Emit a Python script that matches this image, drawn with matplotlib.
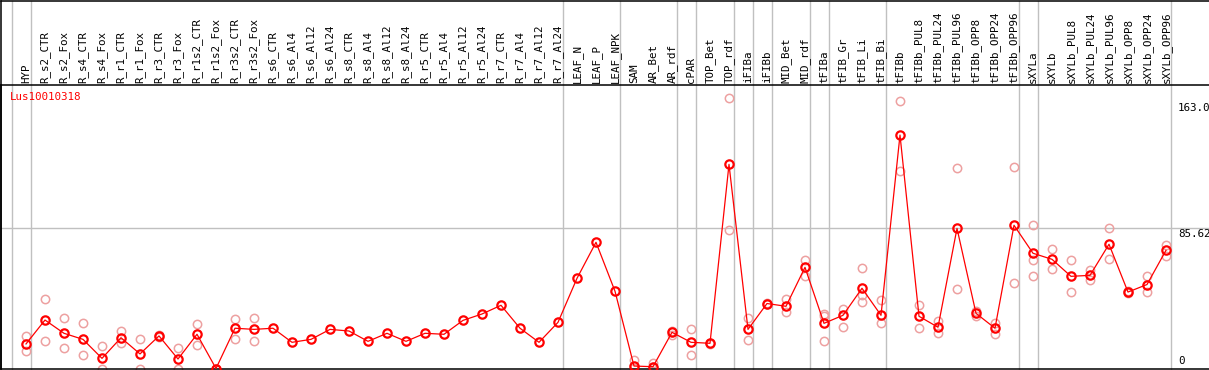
import matplotlib
matplotlib.use("Agg")
import matplotlib.pyplot as plt

# Sample names (column headers)
samples = [
    "HYP",
    "R_s2_CTR", "R_s2_Fox", "R_s4_CTR", "R_s4_Fox", "R_r1_CTR", "R_r1_Fox",
    "R_r3_CTR", "R_r3_Fox", "R_r1s2_CTR", "R_r1s2_Fox", "R_r3s2_CTR", "R_r3s2_Fox",
    "R_s6_CTR", "R_s6_Al4", "R_s6_Al12", "R_s6_Al24",
    "R_s8_CTR", "R_s8_Al4", "R_s8_Al12", "R_s8_Al24",
    "R_r5_CTR", "R_r5_Al4", "R_r5_Al12", "R_r5_Al24",
    "R_r7_CTR", "R_r7_Al4", "R_r7_Al12", "R_r7_Al24",
    "LEAF_N", "LEAF_P", "LEAF_NPK",
    "SAM", "AR_Bet", "AR_rdf", "cPAR", "TOP_Bet", "TOP_rdf",
    "iFIBa", "iFIBb", "MID_Bet", "MID_rdf",
    "tFIBa", "tFIB_Gr", "tFIB_Li", "tFIB_Bi",
    "tFIBb", "tFIBb_PUL8", "tFIBb_PUL24", "tFIBb_PUL96",
    "tFIBb_OPP8", "tFIBb_OPP24", "tFIBb_OPP96",
    "sXYLa", "sXYLb", "sXYLb_PUL8", "sXYLb_PUL24", "sXYLb_PUL96",
    "sXYLb_OPP8", "sXYLb_OPP24", "sXYLb_OPP96",
]

# mean expression per sample
means = [
    15.0,
    29.6, 21.5, 17.8, 6.2, 18.8, 8.9, 19.9, 5.8, 20.9, 0.0, 24.6, 23.9,
    24.6, 16.0, 17.8, 23.9,
    22.9, 16.6, 21.5, 16.6,
    21.5, 20.9, 29.4, 33.3,
    38.6, 24.6, 16.0, 28.2,
    55.1, 77.1, 47.2,
    1.5, 1.1, 22.1, 16.0, 15.4, 124.7,
    23.9, 39.7, 38.0, 61.8,
    27.6, 32.5, 49.0, 32.5,
    142.6, 31.9, 25.2, 85.6, 33.7, 24.6, 87.5,
    70.4, 66.7, 56.3, 56.9, 75.9, 46.7, 51.3, 72.2,
]

# replicate values (empty where only one value is shown)
reps = [
    [19.9, 10.7],
    [42.3, 16.8], [30.7, 12.3], [27.8, 8.1], [13.6, 0.0], [22.9, 15.4],
    [17.8, 0.0], [20.5, 19.4], [12.3, 0.0], [27.0, 14.2], [0.0, 0.0],
    [30.1, 18.2], [31.0, 16.6],
    [], [], [], [], [], [], [], [], [], [], [], [], [], [], [], [],
    [], [], [],
    [5.2, 0.5], [3.2, 0.5], [23.0, 20.5], [24.1, 8.1], [15.8, 15.0], [165.1, 84.4],
    [30.7, 17.2], [40.2, 39.3], [42.3, 34.3], [66.1, 56.7],
    [33.1, 32.0, 16.6], [36.3, 25.2], [61.2, 44.9, 40.8], [41.8, 28.0],
    [163.2, 120.8], [38.6, 24.6], [28.8, 21.5], [122.7, 48.4],
    [35.3, 31.9], [27.8, 21.3], [122.9, 52.0],
    [87.5, 66.5, 56.3], [73.0, 60.6], [66.1, 46.7], [60.2, 54.1],
    [85.8, 66.7], [47.3, 46.2], [56.3, 46.7], [75.4, 68.9],
]

gene = "Lus10010318"
scale_labels = ["163.0", "85.62", "0"]
scale_values = [163.0, 85.62, 0.0]

# separators are drawn right after these sample indices
group_ends = [-1, 0, 28, 31, 34, 35, 37, 38, 39, 41, 42, 45, 52, 53, 60]

W, H = 1209, 370
PX_LEFT, PX_TOP, PX_BOTTOM = 1, 85, 368.5
X0, DX = 26, 19          # pixel position of the first column and spacing
PX_PER_UNIT = 1.637

GRAY = "#c0c0c0"
PINK = "#eda0a0"
MONO = "DejaVu Sans Mono"
FS = 7.8

fig = plt.figure(figsize=(W / 100, H / 100), dpi=100)
fig.patch.set_facecolor("white")
ax = fig.add_axes([PX_LEFT / W, (H - PX_BOTTOM) / H,
                   (W - PX_LEFT) / W, (PX_BOTTOM - PX_TOP) / H])
ax.set_xlim((PX_LEFT - X0) / DX, (W - X0) / DX)
ax.set_ylim(0, (PX_BOTTOM - PX_TOP) / PX_PER_UNIT)
ax.set_xticks([])
ax.set_yticks([])
for side in ["left", "bottom", "top"]:
    ax.spines[side].set_color("black")
    ax.spines[side].set_linewidth(1.1)
ax.spines["right"].set_visible(False)

top_frac = (PX_BOTTOM - 0.5) / (PX_BOTTOM - PX_TOP)

# frame around the header
ax.plot([0, 1], [top_frac, top_frac], transform=ax.transAxes,
        color="black", lw=1.1, clip_on=False)
ax.plot([0, 0], [0, top_frac], transform=ax.transAxes,
        color="black", lw=1.1, clip_on=False)

# group separators
for g in group_ends:
    ax.axvline(g + 0.24, ymin=0, ymax=top_frac, color=GRAY, lw=1.0,
               clip_on=False, zorder=1)

# middle gridline
ax.axhline(scale_values[1], color=GRAY, lw=1.0, zorder=1)

xs = list(range(len(samples)))

# replicate points
rx, ry = [], []
for i, r in enumerate(reps):
    for v in r:
        rx.append(i)
        ry.append(v)
ax.plot(rx, ry, linestyle="none", marker="o", markersize=6.0,
        markerfacecolor="none", markeredgecolor=PINK, markeredgewidth=1.1,
        zorder=2)

# mean line
ax.plot(xs, means, color="red", lw=0.9, marker="o", markersize=6.0,
        markerfacecolor="none", markeredgecolor="red", markeredgewidth=1.6,
        zorder=3)

# sample labels in the header
for i, name in enumerate(samples):
    ax.text(i, (PX_BOTTOM - 83) / (PX_BOTTOM - PX_TOP), name,
            transform=ax.get_xaxis_transform(), rotation=90,
            ha="center", va="bottom", fontsize=FS, family=MONO,
            color="black", clip_on=False)

# gene name
ax.text((10 - X0) / DX, (PX_BOTTOM - 97) / (PX_BOTTOM - PX_TOP), gene,
        transform=ax.get_xaxis_transform(), ha="left", va="center",
        fontsize=FS, family=MONO, color="red")

# scale labels on the right
xr = (1178 - X0) / DX
for lab, v in zip(scale_labels, scale_values):
    if v == 0:
        ax.annotate(lab, xy=(xr, v), xytext=(0, 3), textcoords="offset pixels",
                    ha="left", va="bottom", fontsize=FS, family=MONO)
    else:
        ax.annotate(lab, xy=(xr, v), xytext=(0, -1), textcoords="offset pixels",
                    ha="left", va="top", fontsize=FS, family=MONO,
                    annotation_clip=False)

fig.savefig("out.png", dpi=100)
